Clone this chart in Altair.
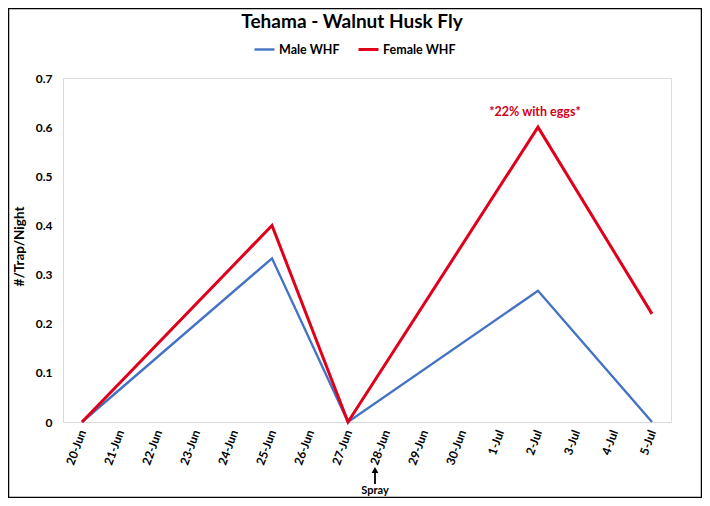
import altair as alt
import pandas as pd

# Category axis (every day shown)
all_dates = ["20-Jun", "21-Jun", "22-Jun", "23-Jun", "24-Jun", "25-Jun", "26-Jun",
             "27-Jun", "28-Jun", "29-Jun", "30-Jun", "1-Jul", "2-Jul", "3-Jul",
             "4-Jul", "5-Jul"]
# Sampling dates and values
obs_dates = ["20-Jun", "25-Jun", "27-Jun", "2-Jul", "5-Jul"]
male_whf = [0, 0.333, 0, 0.267, 0]
female_whf = [0, 0.4, 0, 0.6, 0.22]
series = ["Male WHF", "Female WHF"]
colors = ["#4472C4", "#E0001B"]
y_ticks = [0, 0.1, 0.2, 0.3, 0.4, 0.5, 0.6, 0.7]

rows = []
for d, m, f in zip(obs_dates, male_whf, female_whf):
    rows.append({"date": d, "series": "Male WHF", "value": m})
    rows.append({"date": d, "series": "Female WHF", "value": f})
df = pd.DataFrame(rows)

FONT = "Lato"
W, H = 608, 344
xscale = alt.Scale(domain=all_dates, type="point", padding=0.5)

x_enc = alt.X("date:O", sort=all_dates, scale=xscale,
              axis=alt.Axis(title="", labelAngle=-70, labelFontSize=12,
                            labelFontWeight="bold", labelColor="#000000",
                            labelPadding=8, ticks=False, domainColor="#d9d9d9",
                            grid=False, labelFont=FONT))
y_enc = alt.Y("value:Q",
              scale=alt.Scale(domain=[0, 0.7], nice=False, zero=True),
              axis=alt.Axis(title="#/Trap/Night", values=y_ticks,
                            labelExpr="datum.value == 0 ? '0' : format(datum.value, '.1f')",
                            labelFontSize=12, labelFontWeight="bold", labelColor="#000000",
                            labelPadding=11, ticks=False, domainColor="#d9d9d9",
                            grid=False, labelFont=FONT,
                            titleFont=FONT, titleFontSize=13.5, titleFontWeight="bold",
                            titleColor="#000000", titleAngle=-90, titleX=-44, titleY=H / 2 - 4,
                            titleAlign="center", titleBaseline="middle"))

lines = alt.Chart(df).mark_line().encode(
    x=x_enc,
    y=y_enc,
    color=alt.Color("series:N", scale=alt.Scale(domain=series, range=colors),
                    legend=alt.Legend(title=None, orient="none", direction="horizontal",
                                      legendX=190, legendY=-40, symbolType="stroke",
                                      symbolSize=400, symbolStrokeWidth=3,
                                      labelFont=FONT, labelFontSize=12.5,
                                      labelFontWeight="bold", labelColor="#000000",
                                      labelOffset=3, columnPadding=12)),
    strokeWidth=alt.StrokeWidth("series:N", scale=alt.Scale(domain=series, range=[2.4, 3]),
                                legend=None),
)

note_df = pd.DataFrame({"date": ["2-Jul"], "value": [0.6], "text": ["*22% with eggs*"]})
note = alt.Chart(note_df).mark_text(fontSize=12.5, fontWeight="bold", color="#D0001B",
                                    font=FONT, dy=-15, dx=-3).encode(
    x=alt.X("date:O", sort=all_dates, scale=xscale),
    y=alt.Y("value:Q"),
    text="text:N",
)

spray_df = pd.DataFrame({"date": ["28-Jun"], "text": ["Spray"]})
spray_text = alt.Chart(spray_df).mark_text(fontSize=11, fontWeight="bold", color="#000000",
                                           font=FONT, dx=-11, baseline="middle").encode(
    x=alt.X("date:O", sort=all_dates, scale=xscale),
    y=alt.value(H + 69),
    text="text:N",
)
spray_shaft = alt.Chart(spray_df).mark_rule(color="#000000", strokeWidth=1.8, xOffset=-11).encode(
    x=alt.X("date:O", sort=all_dates, scale=xscale),
    y=alt.value(H + 48),
    y2=alt.value(H + 62),
)
spray_head = alt.Chart(spray_df).mark_point(shape="triangle-up", filled=True, size=45,
                                            color="#000000", opacity=1, xOffset=-11).encode(
    x=alt.X("date:O", sort=all_dates, scale=xscale),
    y=alt.value(H + 48),
)

border = alt.Chart(pd.DataFrame({"a": [0]})).mark_rect(
    fill="transparent", stroke="#000000", strokeWidth=1.5).encode(
    x=alt.value(-54.5), x2=alt.value(638.5), y=alt.value(-69.5), y2=alt.value(419.5),
)

chart = alt.layer(lines, note, spray_shaft, spray_head, spray_text, border).properties(
    width=W, height=H,
    title=alt.TitleParams("Tehama - Walnut Husk Fly", font=FONT, fontSize=19,
                          fontWeight="bold", color="#000000", anchor="middle", dx=-15,
                          offset=-24),
    autosize=alt.AutoSizeParams(type="none"),
    padding={"left": 55, "top": 70, "right": 31, "bottom": 76},
).configure_view(stroke=None).configure(background="#ffffff")

chart.save("out.html", embed_options={"renderer": "svg", "actions": False})
